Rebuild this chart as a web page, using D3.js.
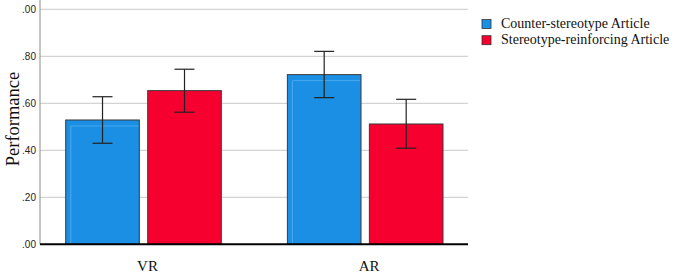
<!DOCTYPE html>
<html>
<head>
<meta charset="utf-8">
<script src="https://cdn.jsdelivr.net/npm/d3@7"></script>
<style>
  body { margin: 0; background: #fff; }
</style>
</head>
<body>
<div id="chart"></div>
<script>
const width = 685, height = 274;

// data
const categories = ["VR", "AR"];
const series = ["Counter-stereotype Article", "Stereotype-reinforcing Article"];
const means = [[0.529, 0.654], [0.722, 0.512]];
const errLow = [[0.430, 0.562], [0.624, 0.409]];
const errHigh = [[0.628, 0.745], [0.821, 0.617]];
const yTicks = [0, 0.2, 0.4, 0.6, 0.8, 1.0];
const colors = ["#1a8fe3", "#f5002f"];

const svg = d3.select("#chart").append("svg")
    .attr("width", width)
    .attr("height", height);

const plotLeft = 40, plotRight = 468;

var y = d3.scaleLinear().domain([0, 1]).range([244.3, 9.3]);
var x0 = d3.scaleBand().domain(categories).range([65.7, 443]).paddingInner(0.298).paddingOuter(0);
var x1 = d3.scaleBand().domain(series).range([0, x0.bandwidth()]).paddingInner(0.102);

// gridlines
svg.append("g").selectAll("line")
    .data(yTicks.slice(1))
    .enter().append("line")
    .attr("x1", plotLeft).attr("x2", plotRight)
    .attr("y1", d => y(d)).attr("y2", d => y(d))
    .attr("stroke", "#c8c8c8").attr("stroke-width", 1);

// left axis line
svg.append("line")
    .attr("x1", plotLeft).attr("x2", plotLeft)
    .attr("y1", 0).attr("y2", y(0))
    .attr("stroke", "#8a8a8a").attr("stroke-width", 1);

// tick labels (SPSS style, leading digit dropped, as in the figure)
svg.append("g").selectAll("text")
    .data(yTicks)
    .enter().append("text")
    .attr("x", 36).attr("y", d => y(d) + 3.5)
    .attr("text-anchor", "end")
    .attr("font-family", "Arial, 'Liberation Sans', sans-serif")
    .attr("font-size", 10)
    .attr("fill", "#222")
    .text(d => d3.format(".2f")(d).replace(/^\d/, ""));

// y title
svg.append("text")
    .attr("transform", "translate(19,119) rotate(-90)")
    .attr("text-anchor", "middle")
    .attr("font-family", "'Liberation Serif', 'Times New Roman', serif")
    .attr("font-size", 18.5)
    .attr("fill", "#111")
    .text("Performance");

// bars
const groups = svg.append("g").selectAll("g")
    .data(categories)
    .enter().append("g")
    .attr("transform", d => "translate(" + x0(d) + ",0)");

groups.each(function(cat, ci) {
    const g = d3.select(this);
    series.forEach(function(s, si) {
        const bx = x1(s), bw = x1.bandwidth();
        g.append("rect")
            .attr("x", bx).attr("y", y(means[ci][si]))
            .attr("width", bw).attr("height", y(0) - y(means[ci][si]))
            .attr("fill", colors[si])
            .attr("stroke", "#3a3a3a").attr("stroke-width", 1);
        if (si === 0) {
            // lighter inner edge like spss
            g.append("line")
                .attr("x1", bx + 5).attr("x2", bx + 5)
                .attr("y1", y(means[ci][si]) + 6).attr("y2", y(0) - 1)
                .attr("stroke", "#4aa6ec").attr("stroke-width", 1.2);
            g.append("line")
                .attr("x1", bx + 5).attr("x2", bx + bw - 1)
                .attr("y1", y(means[ci][si]) + 6).attr("y2", y(means[ci][si]) + 6)
                .attr("stroke", "#4aa6ec").attr("stroke-width", 1);
        }
        const cx = bx + bw / 2;
        g.append("line")
            .attr("x1", cx).attr("x2", cx)
            .attr("y1", y(errHigh[ci][si])).attr("y2", y(errLow[ci][si]))
            .attr("stroke", "#222").attr("stroke-width", 1.2);
        [errHigh[ci][si], errLow[ci][si]].forEach(function(v) {
            g.append("line")
                .attr("x1", cx - 10).attr("x2", cx + 10)
                .attr("y1", y(v)).attr("y2", y(v))
                .attr("stroke", "#222").attr("stroke-width", 1.2);
        });
    });
});

// baseline
svg.append("line")
    .attr("x1", plotLeft).attr("x2", plotRight)
    .attr("y1", y(0)).attr("y2", y(0))
    .attr("stroke", "#000").attr("stroke-width", 2);

// category labels
svg.append("g").selectAll("text")
    .data(categories)
    .enter().append("text")
    .attr("x", d => x0(d) + x0.bandwidth() / 2 + 4)
    .attr("y", 271)
    .attr("text-anchor", "middle")
    .attr("font-family", "'Liberation Serif', 'Times New Roman', serif")
    .attr("font-size", 15)
    .attr("fill", "#111")
    .text(d => d);

// legend
const legend = svg.append("g").selectAll("g")
    .data(series)
    .enter().append("g")
    .attr("transform", (d, i) => "translate(482," + (19.5 + i * 16.2) + ")");

legend.append("rect")
    .attr("width", 9).attr("height", 9)
    .attr("fill", (d, i) => colors[i])
    .attr("stroke", "#333").attr("stroke-width", 0.8);

legend.append("text")
    .attr("x", 19).attr("y", 8.5)
    .attr("font-family", "'Liberation Serif', 'Times New Roman', serif")
    .attr("font-size", 14)
    .attr("fill", "#111")
    .text(d => d);
</script>
</body>
</html>
